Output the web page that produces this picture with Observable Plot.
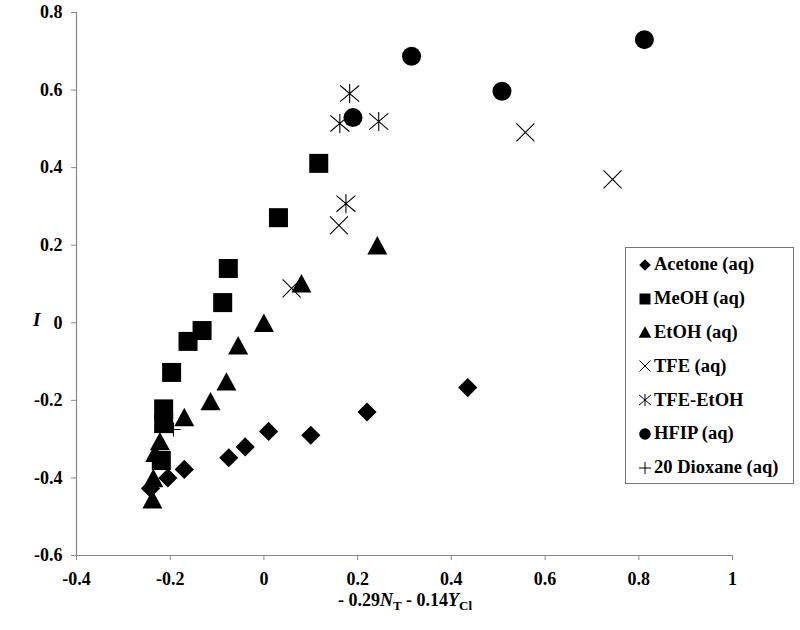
<!DOCTYPE html>
<html>
<head>
<meta charset="utf-8">
<script src="https://cdn.jsdelivr.net/npm/d3@7"></script>
<script src="https://cdn.jsdelivr.net/npm/@observablehq/plot@0.6"></script>
<style>
  html, body { margin: 0; padding: 0; background: #fff; }
  #wrap { position: relative; width: 800px; height: 630px; font-family: "Liberation Serif", "Times New Roman", serif; font-weight: bold; color: #000; }
  #ylab { position: absolute; left: 33px; top: 309px; font-size: 19px; font-style: italic; }
  #xlab { position: absolute; left: 0; width: 810px; top: 590px; text-align: center; font-size: 18px; }
  #xlab sub { font-size: 13px; vertical-align: -4px; }
  #legend { position: absolute; left: 625px; top: 247px; width: 169px; height: 237px; border: 1px solid #777; box-sizing: border-box; padding-top: 0px; }
  .li { display: flex; align-items: center; height: 33.8px; font-size: 18.5px; padding-left: 12px; white-space: nowrap; }
  .li svg { margin-right: 2px; }
</style>
</head>
<body>
<div id="wrap"><div id="chart"></div><div id="ylab">I</div><div id="xlab">- 0.29<i>N</i><sub>T</sub> - 0.14<i>Y</i><sub>Cl</sub></div><div id="legend"></div></div>
<script>
// ---- data ----
const seriesNames = ["Acetone (aq)", "MeOH (aq)", "EtOH (aq)", "TFE (aq)", "TFE-EtOH", "HFIP (aq)", "20 Dioxane (aq)"];

const acetoneX = [0.435, 0.22, 0.10, 0.01, -0.04, -0.075, -0.17, -0.205, -0.242];
const acetoneY = [-0.167, -0.23, -0.29, -0.28, -0.32, -0.348, -0.378, -0.40, -0.427];

const meohX = [0.117, 0.031, -0.076, -0.088, -0.132, -0.162, -0.197, -0.214, -0.214, -0.219];
const meohY = [0.411, 0.271, 0.140, 0.052, -0.020, -0.048, -0.128, -0.222, -0.260, -0.355];

const etohX = [0.242, 0.080, 0.0, -0.055, -0.080, -0.114, -0.170, -0.222, -0.232, -0.236, -0.238];
const etohY = [0.200, 0.102, 0.0, -0.058, -0.151, -0.202, -0.243, -0.305, -0.335, -0.400, -0.455];

const tfeX = [0.744, 0.558, 0.160, 0.059];
const tfeY = [0.370, 0.491, 0.251, 0.089];

const tfeEtohX = [0.183, 0.162, 0.245, 0.175];
const tfeEtohY = [0.591, 0.514, 0.519, 0.307];

const hfipX = [0.812, 0.508, 0.315, 0.190];
const hfipY = [0.730, 0.597, 0.687, 0.529];

const dioxaneX = [-0.193];
const dioxaneY = [-0.275];

const xTicks = [-0.4, -0.2, 0, 0.2, 0.4, 0.6, 0.8, 1];
const yTicks = [-0.6, -0.4, -0.2, 0, 0.2, 0.4, 0.6, 0.8];

// ---- symbols ----
const half = s => Math.sqrt(s / Math.PI);
const symDiamond = { draw(c, s) { const h = half(s); c.moveTo(0, -h); c.lineTo(h, 0); c.lineTo(0, h); c.lineTo(-h, 0); c.closePath(); } };
const symSquare = { draw(c, s) { const h = half(s); c.rect(-h, -h, 2 * h, 2 * h); } };
const symTriangle = { draw(c, s) { const h = half(s); c.moveTo(0, -0.92 * h); c.lineTo(h, 0.92 * h); c.lineTo(-h, 0.92 * h); c.closePath(); } };
const symTimes = { draw(c, s) { const h = half(s); c.moveTo(-h, -h); c.lineTo(h, h); c.moveTo(-h, h); c.lineTo(h, -h); } };
const symAsterisk = { draw(c, s) { const h = half(s); c.moveTo(0, -h); c.lineTo(0, h); c.moveTo(-h, -0.85 * h); c.lineTo(h, 0.85 * h); c.moveTo(-h, 0.85 * h); c.lineTo(h, -0.85 * h); } };
const symPlus = { draw(c, s) { const h = half(s); c.moveTo(-h, 0); c.lineTo(h, 0); c.moveTo(0, -h); c.lineTo(0, h); } };
const symCircle = { draw(c, s) { const h = half(s); c.moveTo(h, 0); c.arc(0, 0, h, 0, 2 * Math.PI); } };

const styles = [
  { sym: symDiamond, r: 9.6, filled: true, lr: 5.8 },
  { sym: symSquare, r: 9.5, filled: true, lr: 5.5 },
  { sym: symTriangle, r: 10, filled: true, lr: 6.3 },
  { sym: symTimes, r: 9, filled: false, lr: 5.5 },
  { sym: symAsterisk, r: 9.5, filled: false, lr: 6 },
  { sym: symCircle, r: 9.5, filled: true, lr: 5.8 },
  { sym: symPlus, r: 7, filled: false, lr: 6 }
];

const toRows = (xs, ys) => xs.map((x, i) => ({ x, y: ys[i] }));
const seriesData = [
  toRows(acetoneX, acetoneY), toRows(meohX, meohY), toRows(etohX, etohY),
  toRows(tfeX, tfeY), toRows(tfeEtohX, tfeEtohY), toRows(hfipX, hfipY), toRows(dioxaneX, dioxaneY)
];

const dotMark = i => {
  const st = styles[i];
  return Plot.dot(seriesData[i], {
    x: "x", y: "y", r: st.r, symbol: st.sym,
    fill: st.filled ? "black" : "none",
    stroke: st.filled ? "none" : "black",
    strokeWidth: 1.1
  });
};

const fmt = d => String(Math.round(d * 10) / 10);
const drawOrder = [6, 0, 1, 2, 3, 4, 5];

const chart = Plot.plot({
  width: 800, height: 630,
  marginLeft: 76, marginRight: 68, marginTop: 12, marginBottom: 75,
  style: { fontFamily: "'Liberation Serif', 'Times New Roman', serif", fontWeight: "bold", fontSize: "18px", color: "#000", background: "#fff" },
  x: { domain: [-0.4, 1] },
  y: { domain: [-0.6, 0.8] },
  marks: [
    Plot.axisX({ ticks: xTicks, tickFormat: fmt, tickSize: 5, tickPadding: 12, stroke: "#888", label: null }),
    Plot.axisY({ ticks: yTicks, tickFormat: fmt, tickSize: 5, tickPadding: 9, stroke: "#888", label: null }),
    Plot.ruleY([-0.6], { stroke: "#888", strokeWidth: 1.2 }),
    Plot.ruleX([-0.4], { stroke: "#888", strokeWidth: 1.2 }),
    ...drawOrder.map(dotMark)
  ]
});
document.getElementById("chart").appendChild(chart);

// ---- legend ----
const legend = d3.select("#legend");
seriesNames.forEach((name, i) => {
  const st = styles[i];
  const row = legend.append("div").attr("class", "li");
  const svg = row.append("svg").attr("width", 14).attr("height", 16);
  svg.append("path")
    .attr("transform", "translate(7,8)")
    .attr("d", d3.symbol(st.sym, Math.PI * st.lr * st.lr)())
    .attr("fill", st.filled ? "black" : "none")
    .attr("stroke", st.filled ? "none" : "black")
    .attr("stroke-width", 1);
  row.append("span").text(name);
});
</script>
</body>
</html>
